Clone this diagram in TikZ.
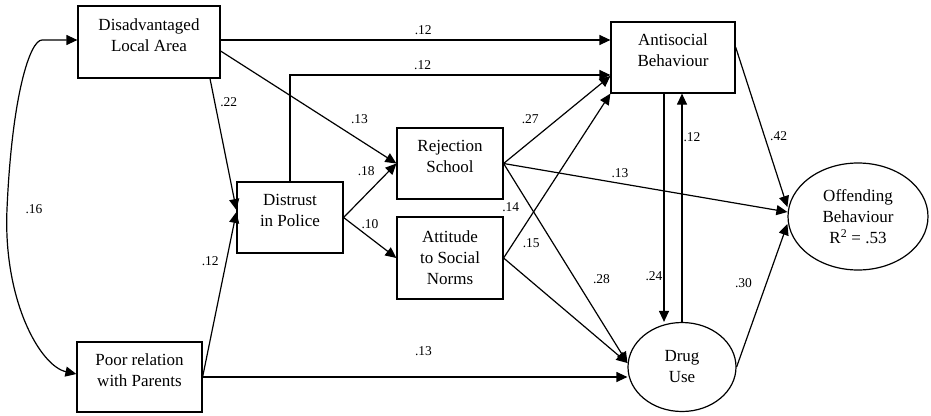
\documentclass[tikz,border=0pt]{standalone}
\usepackage{fontspec}
\setmainfont{Liberation Serif}
\usetikzlibrary{arrows.meta, shapes.geometric, positioning}

\begin{document}
\begin{tikzpicture}[x=1pt,y=-1pt,->,>={Triangle[length=11pt,width=10pt]},
  line width=1.2pt,
  box/.style={rectangle,draw,align=center,inner sep=0pt,font=\fontsize{17}{21}\selectfont},
  lifted/.style={text height=34pt,text depth=15.5pt},
  oval/.style={ellipse,draw,align=center,inner sep=0pt,font=\fontsize{17}{21}\selectfont},
  coef/.style={font=\fontsize{13.5}{15}\selectfont,inner sep=3pt}]
  \useasboundingbox (0,0) rectangle (931,415);

  \node[box, lifted, minimum width=142pt, minimum height=72pt] (area) at (149,42) {Disadvantaged\\Local Area};
  \node[box, lifted, minimum width=125pt, minimum height=70pt] (parents) at (139.5,377) {Poor relation\\with Parents};
  \node[box, lifted, minimum width=106pt, minimum height=71pt] (police) at (290,217.5) {Distrust\\in Police};
  \node[box, lifted, minimum width=106pt, minimum height=71pt] (school) at (450,163.5) {Rejection\\School};
  \node[box, minimum width=106pt, minimum height=82pt] (norms) at (450,258) {Attitude\\to Social\\Norms};
  \node[box, lifted, minimum width=124pt, minimum height=71pt] (antisocial) at (673,57.5) {Antisocial\\Behaviour};
  \node[oval, minimum width=108pt, minimum height=89pt] (drug) at (682,367) {Drug\\Use};
  \node[oval, minimum width=140pt, minimum height=107pt] (offend) at (858,216.5) {Offending\\Behaviour\\R\textsuperscript{2} = .53};

  % correlation of the two background factors
  \draw[<->] (area.west |- 0,40) -- (42,40) .. controls (30,40) and (12,95) .. (7,209)
    node[coef, right=15pt] {.16}
    .. controls (3,300) and (40,366) .. (parents.west |- 0,374);

  \draw (police.north) |- node[coef, pos=0.707, above=2pt] {.12} (antisocial.west |- 0,75);

  \path[every node/.style={coef}]
    (area.east |- 0,40) edge node[pos=0.52, above=2pt] {.12} (antisocial.west |- 0,40)
    (area.east |- 0,51) edge node[pos=0.79, above=13pt] {.13} (school.west)
    (210,0 |- area.south) edge node[pos=0.18, right=2pt] {.22} (police.west |- 0,210)
    (parents.east) edge node[pos=0.70, left=4pt] {.12} (police.west |- 0,212)
    (police.east) edge node[pos=0.43, above=15pt] {.18} (school.west)
	edge node[pos=0.5, above=5pt] {.10} (norms.west)
    (school.east) edge node[pos=0.25, above=14pt] {.27} (antisocial.west |- 0,76)
	edge node[pos=0.41, above=2pt] {.13} (offend.west |- 0,212)
	edge node[pos=0.22, left=8pt] {.14} node[pos=0.58, right=14pt] {.28} (drug.west |- 0,363)
    (norms.east) edge node[pos=0.09, right=6pt] {.15} (antisocial.south west)
	edge (drug.west |- 0,363)
    (parents.east) edge node[pos=0.52, above=18pt] {.13} (drug.west |- 0,377)
    (antisocial.south -| 664,0) edge node[pos=0.80, left=-2pt] {.24} (drug.north -| 664,0)
    (drug.north) edge node[pos=0.81, right=-2pt] {.12} (antisocial.south -| drug.north)
    (antisocial.east |- 0,47) edge node[pos=0.56, right=2pt] {.42} (offend.west |- 0,207)
    (drug.east) edge node[pos=0.59, left=11pt] {.30} (offend.west |- 0,224);
\end{tikzpicture}
\end{document}
